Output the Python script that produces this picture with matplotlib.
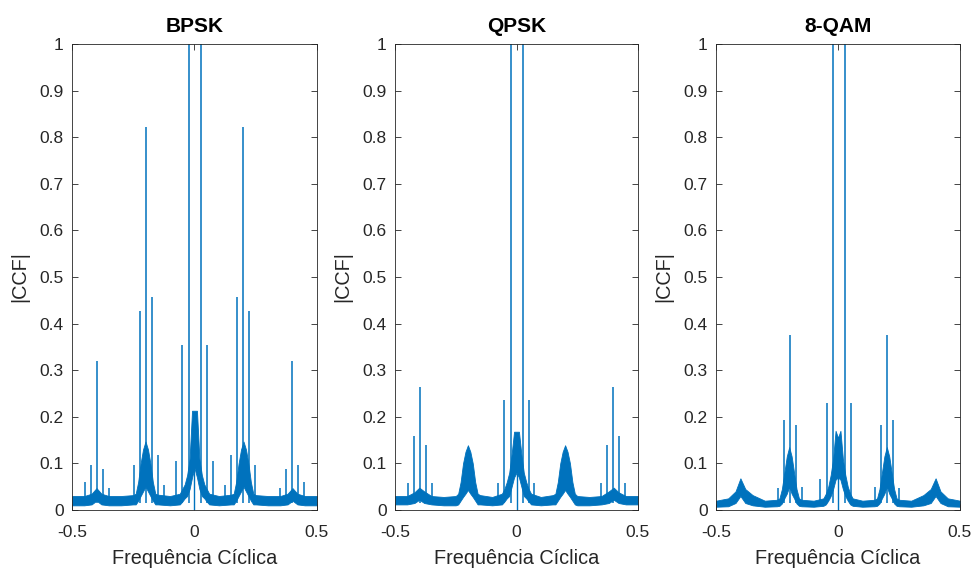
import numpy as np
import matplotlib
matplotlib.use("Agg")
import matplotlib.pyplot as plt

plt.rcParams['font.family'] = ['Liberation Sans', 'DejaVu Sans']

# --- dados ---
titles = ["BPSK", "QPSK", "8-QAM"]

# nós do envelope do ruído (frequência cíclica)
alpha_env = [-0.50, -0.45, -0.42, -0.40, -0.38, -0.35, -0.30, -0.25, -0.24, -0.23,
             -0.22, -0.21, -0.20, -0.19, -0.18, -0.17, -0.16, -0.15, -0.10, -0.06,
             -0.05, -0.04, -0.03, -0.02, -0.01, 0.00, 0.01, 0.02, 0.03, 0.04,
             0.05, 0.06, 0.10, 0.15, 0.16, 0.17, 0.18, 0.19, 0.20, 0.21,
             0.22, 0.23, 0.24, 0.25, 0.30, 0.35, 0.38, 0.40, 0.42, 0.45,
             0.50]

bpsk_upper = [0.030, 0.030, 0.035, 0.047, 0.035, 0.030, 0.030, 0.032, 0.035, 0.060,
              0.100, 0.130, 0.147, 0.130, 0.100, 0.060, 0.035, 0.033, 0.030, 0.035,
              0.045, 0.055, 0.075, 0.110, 0.213, 0.213, 0.213, 0.110, 0.075, 0.055,
              0.045, 0.035, 0.030, 0.033, 0.035, 0.060, 0.100, 0.130, 0.147, 0.130,
              0.100, 0.060, 0.035, 0.032, 0.030, 0.030, 0.035, 0.047, 0.035, 0.030,
              0.030]
bpsk_lower = [0.010, 0.010, 0.012, 0.020, 0.012, 0.010, 0.010, 0.012, 0.012, 0.020,
              0.030, 0.040, 0.050, 0.040, 0.030, 0.020, 0.012, 0.012, 0.010, 0.012,
              0.018, 0.025, 0.030, 0.045, 0.070, 0.090, 0.070, 0.045, 0.030, 0.025,
              0.018, 0.012, 0.010, 0.012, 0.012, 0.020, 0.030, 0.040, 0.050, 0.040,
              0.030, 0.020, 0.012, 0.012, 0.010, 0.010, 0.012, 0.020, 0.012, 0.010,
              0.010]

qpsk_upper = [0.030, 0.030, 0.038, 0.048, 0.040, 0.030, 0.028, 0.030, 0.035, 0.060,
              0.100, 0.125, 0.139, 0.125, 0.100, 0.060, 0.035, 0.032, 0.028, 0.035,
              0.045, 0.060, 0.080, 0.120, 0.168, 0.168, 0.168, 0.120, 0.080, 0.060,
              0.045, 0.035, 0.028, 0.032, 0.035, 0.060, 0.100, 0.125, 0.139, 0.125,
              0.100, 0.060, 0.035, 0.030, 0.028, 0.030, 0.040, 0.048, 0.038, 0.030,
              0.030]
qpsk_lower = [0.012, 0.012, 0.015, 0.022, 0.015, 0.012, 0.010, 0.010, 0.012, 0.020,
              0.028, 0.035, 0.043, 0.035, 0.028, 0.020, 0.012, 0.012, 0.010, 0.012,
              0.018, 0.025, 0.030, 0.050, 0.070, 0.080, 0.070, 0.050, 0.030, 0.025,
              0.018, 0.012, 0.010, 0.012, 0.012, 0.020, 0.028, 0.035, 0.043, 0.035,
              0.028, 0.020, 0.012, 0.010, 0.010, 0.012, 0.015, 0.022, 0.015, 0.012,
              0.012]

qam8_upper = [0.020, 0.025, 0.040, 0.068, 0.045, 0.032, 0.020, 0.022, 0.025, 0.045,
              0.080, 0.115, 0.135, 0.115, 0.080, 0.045, 0.025, 0.022, 0.020, 0.025,
              0.035, 0.050, 0.075, 0.110, 0.170, 0.155, 0.170, 0.110, 0.075, 0.050,
              0.035, 0.025, 0.020, 0.022, 0.025, 0.045, 0.080, 0.115, 0.135, 0.115,
              0.080, 0.045, 0.025, 0.022, 0.020, 0.032, 0.045, 0.068, 0.040, 0.025,
              0.020]
qam8_lower = [0.007, 0.008, 0.015, 0.030, 0.015, 0.010, 0.007, 0.008, 0.009, 0.014,
              0.025, 0.035, 0.050, 0.035, 0.025, 0.014, 0.009, 0.008, 0.007, 0.009,
              0.012, 0.020, 0.030, 0.045, 0.065, 0.070, 0.065, 0.045, 0.030, 0.020,
              0.012, 0.009, 0.007, 0.008, 0.009, 0.014, 0.025, 0.035, 0.050, 0.035,
              0.025, 0.014, 0.009, 0.008, 0.007, 0.010, 0.015, 0.030, 0.015, 0.008,
              0.007]

# raias (posição, altura)
bpsk_spike_pos = [-0.447, -0.422, -0.398, -0.373, -0.350, -0.248, -0.224, -0.198, -0.173,
                  -0.149, -0.124, -0.074, -0.050, -0.024, 0.025, 0.050, 0.075, 0.123,
                  0.149, 0.173, 0.199, 0.224, 0.248, 0.350, 0.373, 0.398, 0.422, 0.447]
bpsk_spike_val = [0.060, 0.097, 0.319, 0.089, 0.047, 0.096, 0.426, 0.821, 0.457,
                  0.117, 0.054, 0.105, 0.354, 1.500, 1.500, 0.354, 0.105, 0.054,
                  0.117, 0.457, 0.821, 0.426, 0.096, 0.047, 0.089, 0.319, 0.097, 0.060]

qpsk_spike_pos = [-0.448, -0.423, -0.398, -0.374, -0.349, -0.075, -0.050, -0.024,
                  0.028, 0.050, 0.074, 0.349, 0.374, 0.398, 0.423, 0.447]
qpsk_spike_val = [0.059, 0.159, 0.263, 0.139, 0.059, 0.058, 0.236, 1.500,
                  1.500, 0.236, 0.058, 0.059, 0.139, 0.263, 0.159, 0.059]

qam8_spike_pos = [-0.247, -0.223, -0.197, -0.172, -0.146, -0.072, -0.046, -0.022,
                  0.027, 0.053, 0.152, 0.176, 0.201, 0.227, 0.251]
qam8_spike_val = [0.047, 0.193, 0.375, 0.182, 0.050, 0.066, 0.229, 1.500,
                  1.500, 0.229, 0.050, 0.182, 0.375, 0.193, 0.047]

uppers = [bpsk_upper, qpsk_upper, qam8_upper]
lowers = [bpsk_lower, qpsk_lower, qam8_lower]
spike_pos = [bpsk_spike_pos, qpsk_spike_pos, qam8_spike_pos]
spike_val = [bpsk_spike_val, qpsk_spike_val, qam8_spike_val]

line_color = '#0072BD'
axis_color = '#262626'

fig = plt.figure(figsize=(9.76, 5.70), dpi=100)
lefts = [72 / 976, 395 / 976, 716 / 976]
widths = [245 / 976, 243 / 976, 244 / 976]
bottom = 1 - 510 / 570
height = (510 - 44) / 570
i0 = alpha_env.index(0.0)

for i in range(3):
    ax = fig.add_axes([lefts[i], bottom, widths[i], height])
    ax.fill_between(alpha_env, lowers[i], uppers[i], color=line_color, linewidth=0.6)
    ax.vlines(spike_pos[i], 0.015, spike_val[i], color=line_color, linewidth=1.1)
    # queda no centro
    ax.vlines([0.0], 0.0, lowers[i][i0], color=line_color, linewidth=1.0)

    ax.set_xlim(-0.5, 0.5)
    ax.set_ylim(0, 1)
    ax.set_xticks([-0.5, 0, 0.5])
    ax.set_xticklabels(['-0.5', '0', '0.5'])
    ax.set_yticks(np.arange(0, 1.01, 0.1))
    ax.set_yticklabels(['0', '0.1', '0.2', '0.3', '0.4', '0.5', '0.6', '0.7', '0.8', '0.9', '1'])
    ax.tick_params(direction='in', top=True, right=True, length=4, width=0.6,
                   labelsize=12.5, colors=axis_color)
    ax.tick_params(axis='x', pad=11)
    ax.tick_params(axis='y', pad=6)
    for s in ax.spines.values():
        s.set_color(axis_color)
        s.set_linewidth(0.6)
    ax.set_title(titles[i], fontsize=15, fontweight='bold', color='black', pad=9)
    ax.set_xlabel('Frequência Cíclica', fontsize=14.3, color=axis_color, labelpad=6)
    ax.set_ylabel('|CCF|', fontsize=14.3, color=axis_color, labelpad=7)

fig.savefig('out.png', dpi=100)
